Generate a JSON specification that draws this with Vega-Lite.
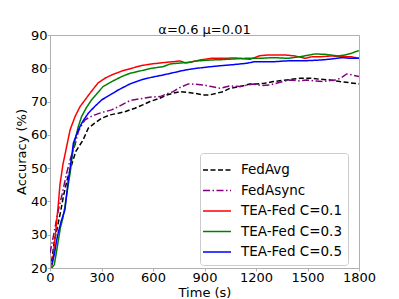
{
  "$schema": "https://vega.github.io/schema/vega-lite/v6.json",
  "autosize": "none",
  "width": 309,
  "height": 233,
  "padding": {"left": 50, "top": 35, "right": 40, "bottom": 31},
  "background": "white",
  "title": {"text": "α=0.6 μ=0.01", "font": "DejaVu Sans", "fontSize": 13, "fontWeight": "normal", "color": "black", "offset": 5, "dy": 13},
  "config": {
    "view": {"stroke": "#b0b0b0", "strokeWidth": 1},
    "axis": {"grid": false, "domainColor": "#b0b0b0", "tickColor": "#b0b0b0", "tickSize": 3, "labelFont": "DejaVu Sans", "labelFontSize": 13, "labelColor": "black", "titleFont": "DejaVu Sans", "titleFontSize": 13, "titleFontWeight": "normal", "titleColor": "black", "labelPadding": 0, "labelOverlap": false, "labelFlush": false, "format": "d"}
  },
  "data": {"values": [
    {"series": "FedAvg", "time": 10, "acc": 22},
    {"series": "FedAvg", "time": 25, "acc": 28},
    {"series": "FedAvg", "time": 40, "acc": 31.5},
    {"series": "FedAvg", "time": 60, "acc": 36.5},
    {"series": "FedAvg", "time": 80, "acc": 42},
    {"series": "FedAvg", "time": 100, "acc": 46.5},
    {"series": "FedAvg", "time": 126, "acc": 51},
    {"series": "FedAvg", "time": 150, "acc": 55},
    {"series": "FedAvg", "time": 193, "acc": 58.5},
    {"series": "FedAvg", "time": 223, "acc": 62},
    {"series": "FedAvg", "time": 260, "acc": 63.5},
    {"series": "FedAvg", "time": 301, "acc": 65},
    {"series": "FedAvg", "time": 350, "acc": 66},
    {"series": "FedAvg", "time": 398, "acc": 66.5},
    {"series": "FedAvg", "time": 440, "acc": 67},
    {"series": "FedAvg", "time": 466, "acc": 67.5},
    {"series": "FedAvg", "time": 495, "acc": 68},
    {"series": "FedAvg", "time": 540, "acc": 69},
    {"series": "FedAvg", "time": 582, "acc": 70},
    {"series": "FedAvg", "time": 640, "acc": 71},
    {"series": "FedAvg", "time": 680, "acc": 72},
    {"series": "FedAvg", "time": 717, "acc": 72.5},
    {"series": "FedAvg", "time": 760, "acc": 73},
    {"series": "FedAvg", "time": 796, "acc": 72.8},
    {"series": "FedAvg", "time": 840, "acc": 72.5},
    {"series": "FedAvg", "time": 893, "acc": 72},
    {"series": "FedAvg", "time": 930, "acc": 72},
    {"series": "FedAvg", "time": 971, "acc": 72.5},
    {"series": "FedAvg", "time": 1010, "acc": 73},
    {"series": "FedAvg", "time": 1048, "acc": 74},
    {"series": "FedAvg", "time": 1107, "acc": 74.5},
    {"series": "FedAvg", "time": 1165, "acc": 75.3},
    {"series": "FedAvg", "time": 1204, "acc": 75.3},
    {"series": "FedAvg", "time": 1250, "acc": 75.5},
    {"series": "FedAvg", "time": 1300, "acc": 76},
    {"series": "FedAvg", "time": 1380, "acc": 76.5},
    {"series": "FedAvg", "time": 1456, "acc": 77},
    {"series": "FedAvg", "time": 1520, "acc": 77},
    {"series": "FedAvg", "time": 1573, "acc": 76.7},
    {"series": "FedAvg", "time": 1630, "acc": 76.5},
    {"series": "FedAvg", "time": 1689, "acc": 76},
    {"series": "FedAvg", "time": 1740, "acc": 75.7},
    {"series": "FedAvg", "time": 1800, "acc": 75.3},

    {"series": "FedAsync", "time": 0, "acc": 24.5},
    {"series": "FedAsync", "time": 10, "acc": 27},
    {"series": "FedAsync", "time": 25, "acc": 31},
    {"series": "FedAsync", "time": 49, "acc": 37.5},
    {"series": "FedAsync", "time": 70, "acc": 42},
    {"series": "FedAsync", "time": 97, "acc": 48.5},
    {"series": "FedAsync", "time": 120, "acc": 53},
    {"series": "FedAsync", "time": 146, "acc": 57},
    {"series": "FedAsync", "time": 165, "acc": 61},
    {"series": "FedAsync", "time": 185, "acc": 63},
    {"series": "FedAsync", "time": 204, "acc": 64.5},
    {"series": "FedAsync", "time": 230, "acc": 65.3},
    {"series": "FedAsync", "time": 262, "acc": 66},
    {"series": "FedAsync", "time": 300, "acc": 66.7},
    {"series": "FedAsync", "time": 359, "acc": 67.5},
    {"series": "FedAsync", "time": 400, "acc": 68.5},
    {"series": "FedAsync", "time": 466, "acc": 70.3},
    {"series": "FedAsync", "time": 520, "acc": 70.8},
    {"series": "FedAsync", "time": 580, "acc": 71.3},
    {"series": "FedAsync", "time": 641, "acc": 71.5},
    {"series": "FedAsync", "time": 680, "acc": 72.3},
    {"series": "FedAsync", "time": 717, "acc": 73},
    {"series": "FedAsync", "time": 760, "acc": 74.3},
    {"series": "FedAsync", "time": 806, "acc": 75.3},
    {"series": "FedAsync", "time": 850, "acc": 75.2},
    {"series": "FedAsync", "time": 893, "acc": 75},
    {"series": "FedAsync", "time": 940, "acc": 74.5},
    {"series": "FedAsync", "time": 990, "acc": 74},
    {"series": "FedAsync", "time": 1048, "acc": 74.7},
    {"series": "FedAsync", "time": 1107, "acc": 74.5},
    {"series": "FedAsync", "time": 1184, "acc": 75.3},
    {"series": "FedAsync", "time": 1230, "acc": 74.8},
    {"series": "FedAsync", "time": 1281, "acc": 75},
    {"series": "FedAsync", "time": 1340, "acc": 75.8},
    {"series": "FedAsync", "time": 1398, "acc": 76.5},
    {"series": "FedAsync", "time": 1450, "acc": 76.2},
    {"series": "FedAsync", "time": 1495, "acc": 76.5},
    {"series": "FedAsync", "time": 1540, "acc": 76.2},
    {"series": "FedAsync", "time": 1592, "acc": 76},
    {"series": "FedAsync", "time": 1630, "acc": 76.3},
    {"series": "FedAsync", "time": 1670, "acc": 76.5},
    {"series": "FedAsync", "time": 1700, "acc": 77.3},
    {"series": "FedAsync", "time": 1728, "acc": 78.3},
    {"series": "FedAsync", "time": 1760, "acc": 78},
    {"series": "FedAsync", "time": 1800, "acc": 77.5},

    {"series": "TEA-Fed C=0.1", "time": 10, "acc": 20},
    {"series": "TEA-Fed C=0.1", "time": 20, "acc": 24},
    {"series": "TEA-Fed C=0.1", "time": 35, "acc": 32},
    {"series": "TEA-Fed C=0.1", "time": 50, "acc": 40},
    {"series": "TEA-Fed C=0.1", "time": 58, "acc": 45},
    {"series": "TEA-Fed C=0.1", "time": 75, "acc": 51},
    {"series": "TEA-Fed C=0.1", "time": 97, "acc": 56.5},
    {"series": "TEA-Fed C=0.1", "time": 117, "acc": 61.5},
    {"series": "TEA-Fed C=0.1", "time": 146, "acc": 65.5},
    {"series": "TEA-Fed C=0.1", "time": 175, "acc": 68.5},
    {"series": "TEA-Fed C=0.1", "time": 204, "acc": 70.5},
    {"series": "TEA-Fed C=0.1", "time": 240, "acc": 73},
    {"series": "TEA-Fed C=0.1", "time": 280, "acc": 75.6},
    {"series": "TEA-Fed C=0.1", "time": 320, "acc": 77},
    {"series": "TEA-Fed C=0.1", "time": 359, "acc": 78},
    {"series": "TEA-Fed C=0.1", "time": 420, "acc": 79.2},
    {"series": "TEA-Fed C=0.1", "time": 476, "acc": 80},
    {"series": "TEA-Fed C=0.1", "time": 530, "acc": 80.8},
    {"series": "TEA-Fed C=0.1", "time": 592, "acc": 81.3},
    {"series": "TEA-Fed C=0.1", "time": 660, "acc": 81.7},
    {"series": "TEA-Fed C=0.1", "time": 720, "acc": 82},
    {"series": "TEA-Fed C=0.1", "time": 757, "acc": 82.2},
    {"series": "TEA-Fed C=0.1", "time": 790, "acc": 81.6},
    {"series": "TEA-Fed C=0.1", "time": 830, "acc": 82},
    {"series": "TEA-Fed C=0.1", "time": 874, "acc": 82.5},
    {"series": "TEA-Fed C=0.1", "time": 940, "acc": 83},
    {"series": "TEA-Fed C=0.1", "time": 1010, "acc": 83},
    {"series": "TEA-Fed C=0.1", "time": 1080, "acc": 83.1},
    {"series": "TEA-Fed C=0.1", "time": 1165, "acc": 82.7},
    {"series": "TEA-Fed C=0.1", "time": 1223, "acc": 83.8},
    {"series": "TEA-Fed C=0.1", "time": 1270, "acc": 84},
    {"series": "TEA-Fed C=0.1", "time": 1311, "acc": 84},
    {"series": "TEA-Fed C=0.1", "time": 1370, "acc": 84},
    {"series": "TEA-Fed C=0.1", "time": 1427, "acc": 83.7},
    {"series": "TEA-Fed C=0.1", "time": 1485, "acc": 83},
    {"series": "TEA-Fed C=0.1", "time": 1530, "acc": 83.5},
    {"series": "TEA-Fed C=0.1", "time": 1582, "acc": 83.5},
    {"series": "TEA-Fed C=0.1", "time": 1640, "acc": 83.7},
    {"series": "TEA-Fed C=0.1", "time": 1700, "acc": 83.5},
    {"series": "TEA-Fed C=0.1", "time": 1750, "acc": 83.5},
    {"series": "TEA-Fed C=0.1", "time": 1800, "acc": 83},

    {"series": "TEA-Fed C=0.3", "time": 10, "acc": 20},
    {"series": "TEA-Fed C=0.3", "time": 25, "acc": 21},
    {"series": "TEA-Fed C=0.3", "time": 35, "acc": 24},
    {"series": "TEA-Fed C=0.3", "time": 49, "acc": 28.4},
    {"series": "TEA-Fed C=0.3", "time": 60, "acc": 32},
    {"series": "TEA-Fed C=0.3", "time": 75, "acc": 35},
    {"series": "TEA-Fed C=0.3", "time": 87, "acc": 38.5},
    {"series": "TEA-Fed C=0.3", "time": 100, "acc": 43},
    {"series": "TEA-Fed C=0.3", "time": 117, "acc": 48.5},
    {"series": "TEA-Fed C=0.3", "time": 134, "acc": 55.5},
    {"series": "TEA-Fed C=0.3", "time": 146, "acc": 58.5},
    {"series": "TEA-Fed C=0.3", "time": 165, "acc": 62.5},
    {"series": "TEA-Fed C=0.3", "time": 184, "acc": 65.5},
    {"series": "TEA-Fed C=0.3", "time": 210, "acc": 68},
    {"series": "TEA-Fed C=0.3", "time": 242, "acc": 70.5},
    {"series": "TEA-Fed C=0.3", "time": 275, "acc": 72.5},
    {"series": "TEA-Fed C=0.3", "time": 309, "acc": 74.5},
    {"series": "TEA-Fed C=0.3", "time": 360, "acc": 76},
    {"series": "TEA-Fed C=0.3", "time": 417, "acc": 77.5},
    {"series": "TEA-Fed C=0.3", "time": 466, "acc": 78.5},
    {"series": "TEA-Fed C=0.3", "time": 534, "acc": 79.3},
    {"series": "TEA-Fed C=0.3", "time": 592, "acc": 80},
    {"series": "TEA-Fed C=0.3", "time": 660, "acc": 80.5},
    {"series": "TEA-Fed C=0.3", "time": 699, "acc": 81.3},
    {"series": "TEA-Fed C=0.3", "time": 760, "acc": 81.6},
    {"series": "TEA-Fed C=0.3", "time": 815, "acc": 81.8},
    {"series": "TEA-Fed C=0.3", "time": 854, "acc": 82.2},
    {"series": "TEA-Fed C=0.3", "time": 940, "acc": 82.5},
    {"series": "TEA-Fed C=0.3", "time": 1000, "acc": 82.6},
    {"series": "TEA-Fed C=0.3", "time": 1070, "acc": 82.8},
    {"series": "TEA-Fed C=0.3", "time": 1146, "acc": 83},
    {"series": "TEA-Fed C=0.3", "time": 1223, "acc": 83},
    {"series": "TEA-Fed C=0.3", "time": 1300, "acc": 83.2},
    {"series": "TEA-Fed C=0.3", "time": 1388, "acc": 83},
    {"series": "TEA-Fed C=0.3", "time": 1460, "acc": 83.5},
    {"series": "TEA-Fed C=0.3", "time": 1543, "acc": 84.3},
    {"series": "TEA-Fed C=0.3", "time": 1600, "acc": 84.2},
    {"series": "TEA-Fed C=0.3", "time": 1677, "acc": 83.7},
    {"series": "TEA-Fed C=0.3", "time": 1720, "acc": 84},
    {"series": "TEA-Fed C=0.3", "time": 1757, "acc": 84.5},
    {"series": "TEA-Fed C=0.3", "time": 1780, "acc": 85},
    {"series": "TEA-Fed C=0.3", "time": 1800, "acc": 85.3},

    {"series": "TEA-Fed C=0.5", "time": 10, "acc": 21},
    {"series": "TEA-Fed C=0.5", "time": 25, "acc": 24},
    {"series": "TEA-Fed C=0.5", "time": 39, "acc": 28.4},
    {"series": "TEA-Fed C=0.5", "time": 50, "acc": 31},
    {"series": "TEA-Fed C=0.5", "time": 65, "acc": 34},
    {"series": "TEA-Fed C=0.5", "time": 87, "acc": 37.5},
    {"series": "TEA-Fed C=0.5", "time": 107, "acc": 46.5},
    {"series": "TEA-Fed C=0.5", "time": 120, "acc": 51},
    {"series": "TEA-Fed C=0.5", "time": 136, "acc": 57.5},
    {"series": "TEA-Fed C=0.5", "time": 165, "acc": 61.5},
    {"series": "TEA-Fed C=0.5", "time": 190, "acc": 64},
    {"series": "TEA-Fed C=0.5", "time": 223, "acc": 66.5},
    {"series": "TEA-Fed C=0.5", "time": 260, "acc": 68.5},
    {"series": "TEA-Fed C=0.5", "time": 301, "acc": 70.5},
    {"series": "TEA-Fed C=0.5", "time": 350, "acc": 72},
    {"series": "TEA-Fed C=0.5", "time": 398, "acc": 73.5},
    {"series": "TEA-Fed C=0.5", "time": 466, "acc": 75.3},
    {"series": "TEA-Fed C=0.5", "time": 530, "acc": 76.5},
    {"series": "TEA-Fed C=0.5", "time": 592, "acc": 77.3},
    {"series": "TEA-Fed C=0.5", "time": 660, "acc": 78},
    {"series": "TEA-Fed C=0.5", "time": 720, "acc": 78.7},
    {"series": "TEA-Fed C=0.5", "time": 790, "acc": 79.5},
    {"series": "TEA-Fed C=0.5", "time": 854, "acc": 80},
    {"series": "TEA-Fed C=0.5", "time": 940, "acc": 80.5},
    {"series": "TEA-Fed C=0.5", "time": 1000, "acc": 80.8},
    {"series": "TEA-Fed C=0.5", "time": 1048, "acc": 81},
    {"series": "TEA-Fed C=0.5", "time": 1146, "acc": 81.5},
    {"series": "TEA-Fed C=0.5", "time": 1194, "acc": 82},
    {"series": "TEA-Fed C=0.5", "time": 1250, "acc": 82},
    {"series": "TEA-Fed C=0.5", "time": 1311, "acc": 82},
    {"series": "TEA-Fed C=0.5", "time": 1370, "acc": 82.2},
    {"series": "TEA-Fed C=0.5", "time": 1427, "acc": 82.3},
    {"series": "TEA-Fed C=0.5", "time": 1500, "acc": 82.3},
    {"series": "TEA-Fed C=0.5", "time": 1582, "acc": 82.5},
    {"series": "TEA-Fed C=0.5", "time": 1640, "acc": 82.8},
    {"series": "TEA-Fed C=0.5", "time": 1699, "acc": 83.2},
    {"series": "TEA-Fed C=0.5", "time": 1750, "acc": 83},
    {"series": "TEA-Fed C=0.5", "time": 1800, "acc": 83}
  ]},
  "mark": {"type": "line", "strokeWidth": 1.5, "clip": true},
  "encoding": {
    "x": {"field": "time", "type": "quantitative", "title": "Time (s)", "scale": {"domain": [0, 1800], "nice": false}, "axis": {"values": [0, 300, 600, 900, 1200, 1500, 1800], "titleY": 28, "titleBaseline": "alphabetic"}},
    "y": {"field": "acc", "type": "quantitative", "title": "Accuracy (%)", "scale": {"domain": [20, 90], "nice": false}, "axis": {"values": [20, 30, 40, 50, 60, 70, 80, 90], "titleX": -25, "titleBaseline": "alphabetic"}},
    "color": {"field": "series", "type": "nominal", "sort": ["FedAvg", "FedAsync", "TEA-Fed C=0.1", "TEA-Fed C=0.3", "TEA-Fed C=0.5"],
      "scale": {"domain": ["FedAvg", "FedAsync", "TEA-Fed C=0.1", "TEA-Fed C=0.3", "TEA-Fed C=0.5"], "range": ["#000000", "#800080", "#ff0000", "#008000", "#0000ff"]},
      "legend": {"title": null, "orient": "none", "legendX": 150, "legendY": 118, "symbolType": "M-1.4,0H1.4", "symbolSize": 400, "symbolStrokeWidth": 1.5, "labelFont": "DejaVu Sans", "labelFontSize": 13.5, "labelColor": "black", "labelOffset": 13, "rowPadding": 2.5, "padding": 6, "strokeColor": "#cccccc", "fillColor": "white", "cornerRadius": 3}},
    "strokeDash": {"field": "series", "type": "nominal", "sort": ["FedAvg", "FedAsync", "TEA-Fed C=0.1", "TEA-Fed C=0.3", "TEA-Fed C=0.5"],
      "scale": {"domain": ["FedAvg", "FedAsync", "TEA-Fed C=0.1", "TEA-Fed C=0.3", "TEA-Fed C=0.5"], "range": [[5, 2.5], [7, 2.5, 1.5, 2.5], [1, 0], [1, 0], [1, 0]]}}
  }
}
